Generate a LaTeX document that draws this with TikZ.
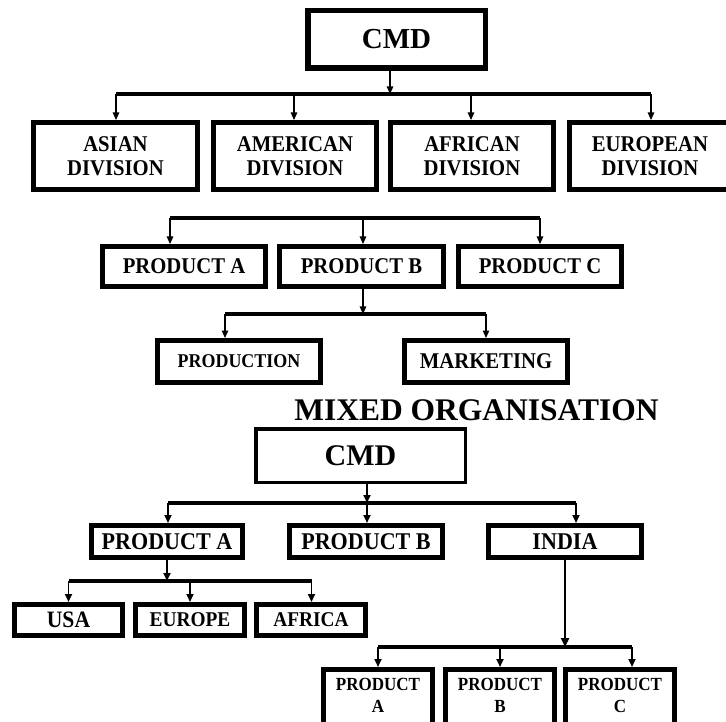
\documentclass[tikz,border=0pt]{standalone}
\usepackage{fontspec}
\setmainfont{Liberation Serif}
\newfontfamily\narrow[FakeStretch=0.92]{Liberation Serif}
\usetikzlibrary{arrows.meta}
% bold label fonts: condensed (\nf) and regular width (\wf)
\newcommand{\nf}[2]{\narrow\bfseries\fontsize{#1}{#2}\selectfont}
\newcommand{\wf}[2]{\rmfamily\bfseries\fontsize{#1}{#2}\selectfont}
\begin{document}
\begin{tikzpicture}[x=1pt,y=-1pt,
  box/.style={draw, fill=white, rectangle, line width=5pt, inner sep=0pt, align=center},
  bus/.style={line width=4pt},
  arr/.style={line width=1.2pt, -{Triangle[width=6.5pt,length=7.5pt]}},
  arrm/.style={line width=1.8pt, -{Triangle[width=7pt,length=8pt]}},
]
\useasboundingbox[fill=white] (0,0) rectangle (726,722);

% ---------- divisional chart ----------
\node[box, line width=5.5pt, minimum width=177.5pt, minimum height=57.5pt, font=\wf{29}{30}] (cmd1) at (396.5,39.5) {CMD};

\node[box, minimum width=164pt, minimum height=67pt, font=\nf{22.5}{24.5}] (asian)    at (115.5,156) {ASIAN\\DIVISION};
\node[box, minimum width=163pt, minimum height=67pt, font=\nf{22.5}{24.5}] (american) at (295,156)   {AMERICAN\\DIVISION};
\node[box, minimum width=163pt, minimum height=67pt, font=\nf{22.5}{24.5}] (african)  at (472,156)   {AFRICAN\\DIVISION};
\node[box, minimum width=161pt, minimum height=67pt, font=\nf{22.5}{24.5}] (european) at (650,156)   {EUROPEAN\\DIVISION};

\coordinate (b1m) at (390,94);
\coordinate (b1a) at (116,94);
\coordinate (b1b) at (294,94);
\coordinate (b1c) at (471,94);
\coordinate (b1d) at (651,94);
\draw[bus] (b1a) -- (b1d);
\draw[arr] (cmd1.south -| b1m) -- (b1m);
\foreach \c/\n in {b1a/asian,b1b/american,b1c/african,b1d/european}
  \draw[arr] (\c) -- (\n.north -| \c);

% products
\node[box, minimum width=163pt, minimum height=40pt, font=\nf{22.5}{23}] (pa) at (184,266.5)   {PRODUCT A};
\node[box, minimum width=164pt, minimum height=40pt, font=\nf{22.5}{23}] (pb) at (361.5,266.5) {PRODUCT B};
\node[box, minimum width=163pt, minimum height=40pt, font=\nf{22.5}{23}] (pc) at (540,266.5)   {PRODUCT C};

\coordinate (b2a) at (170,218);
\coordinate (b2b) at (363,218);
\coordinate (b2c) at (540,218);
\draw[bus] (b2a) -- (b2c);
\foreach \c/\n in {b2a/pa,b2b/pb,b2c/pc}
  \draw[arr] (\c) -- (\n.north -| \c);

% functions under product B
\node[box, minimum width=163pt, minimum height=42pt, font=\nf{19.5}{20}] (prod) at (239,361.5) {PRODUCTION};
\node[box, minimum width=163pt, minimum height=42pt, font=\nf{22.5}{23}] (mkt)  at (486,361.5) {MARKETING};

\coordinate (b3m) at (363,314);
\coordinate (b3a) at (225,314);
\coordinate (b3b) at (486,314);
\draw[bus] (b3a) -- (b3b);
\draw[arr] (pb.south -| b3m) -- (b3m);
\foreach \c/\n in {b3a/prod,b3b/mkt}
  \draw[arr] (\c) -- (\n.north -| \c);

% ---------- mixed organisation ----------
\node[anchor=base, font=\wf{31.5}{32}] (title) at (476.5,420) {MIXED ORGANISATION};

\node[box, line width=3.5pt, minimum width=209.5pt, minimum height=53.5pt, font=\wf{30}{31}] (cmd2) at (360.5,455.5) {CMD};

\node[box, minimum width=151pt, minimum height=32pt, font=\nf{24}{25}] (mpa)   at (167,541.5) {PRODUCT A};
\node[box, minimum width=153pt, minimum height=32pt, font=\nf{24}{25}] (mpb)   at (366,541.5) {PRODUCT B};
\node[box, minimum width=153pt, minimum height=32pt, font=\nf{24}{25}] (india) at (565,541.5) {INDIA};

\coordinate (b4m) at (367,503);
\coordinate (b4a) at (168,503);
\coordinate (b4c) at (576,503);
\draw[bus, line width=3.5pt] (b4a) -- (b4c);
\draw[arrm] (cmd2.south -| b4m) -- (b4m);
\foreach \c/\n in {b4a/mpa,b4m/mpb,b4c/india}
  \draw[arrm] (\c) -- (\n.north -| \c);

% regions under product A
\node[box, minimum width=108pt, minimum height=31pt, font=\nf{23.5}{24}] (usa)    at (68.5,620) {USA};
\node[box, minimum width=109pt, minimum height=31pt, font=\nf{21}{22}]   (europe) at (190,620)  {EUROPE};
\node[box, minimum width=109pt, minimum height=31pt, font=\nf{21}{22}]   (africa) at (311,620)  {AFRICA};

\coordinate (b5m) at (167,581);
\coordinate (b5a) at (68.5,581);
\coordinate (b5b) at (190,581);
\coordinate (b5c) at (311.5,581);
\draw[bus] (b5a) -- (b5c);
\draw[arrm] (mpa.south -| b5m) -- (b5m);
\foreach \c/\n in {b5a/usa,b5b/europe,b5c/africa}
  \draw[arrm] (\c) -- (\n.north -| \c);

% products under India
\node[box, minimum width=109pt, minimum height=68pt] (ia) at (378,703.5) {};
\node[box, minimum width=109pt, minimum height=68pt] (ib) at (500,703.5) {};
\node[box, minimum width=109pt, minimum height=68pt] (ic) at (620,703.5) {};
\node[align=center, inner sep=0pt, font=\nf{18.5}{22}] (ial) at (378,695) {PRODUCT\\A};
\node[align=center, inner sep=0pt, font=\nf{18.5}{22}] (ibl) at (500,695) {PRODUCT\\B};
\node[align=center, inner sep=0pt, font=\nf{18.5}{22}] (icl) at (620,695) {PRODUCT\\C};

\coordinate (b6m) at (565,647);
\coordinate (b6a) at (378,647);
\coordinate (b6b) at (500,647);
\coordinate (b6c) at (632,647);
\draw[bus] (b6a) -- (b6c);
\draw[line width=2.6pt, -{Triangle[width=8pt,length=9pt]}] (india.south -| b6m) -- (b6m);
\foreach \c/\n in {b6a/ia,b6b/ib,b6c/ic}
  \draw[arrm] (\c) -- (\n.north -| \c);
\end{tikzpicture}
\end{document}
